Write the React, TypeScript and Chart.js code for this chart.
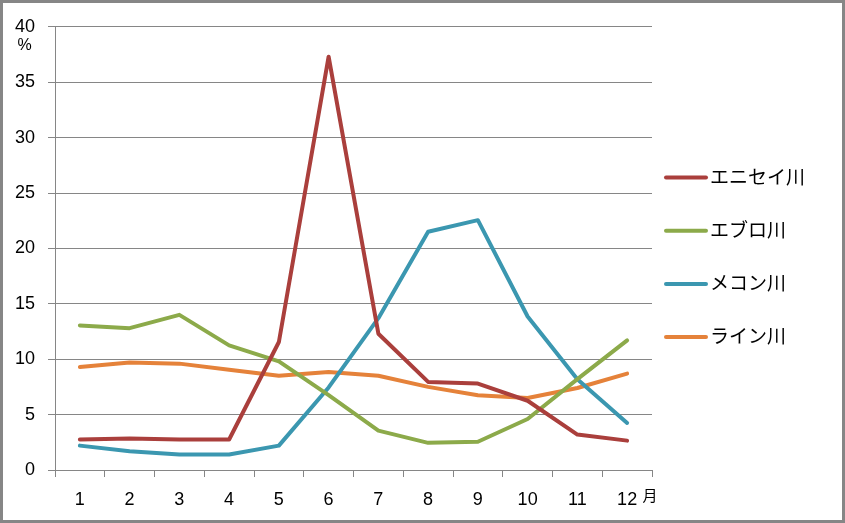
import React, { useEffect, useRef } from "react";
import { Chart, registerables } from "chart.js";

Chart.register(...registerables);

// months on the x axis
const months = ["1", "2", "3", "4", "5", "6", "7", "8", "9", "10", "11", "12"];

// share of yearly flow per month (%)
const yenisei = [2.75, 2.85, 2.75, 2.75, 11.55, 37.3, 12.3, 7.95, 7.8, 6.25, 3.2, 2.65];
const ebro = [13.05, 12.8, 14.0, 11.25, 9.8, 6.75, 3.55, 2.45, 2.55, 4.6, 8.2, 11.7];
const mekong = [2.2, 1.7, 1.4, 1.4, 2.2, 7.45, 13.7, 21.5, 22.55, 13.85, 8.2, 4.25];
const rhine = [9.3, 9.7, 9.6, 9.05, 8.5, 8.85, 8.5, 7.5, 6.75, 6.5, 7.4, 8.7];

const seriesNames = ["エニセイ川", "エブロ川", "メコン川", "ライン川"];
const seriesColors = ["#AA3F3C", "#8CAA4A", "#3B97B0", "#E5823A"];

const GRID = "#868686";

const legendPlugin = {
  id: "sideLegend",
  afterDraw(chart: Chart) {
    const ctx = chart.ctx;
    ctx.save();
    chart.data.datasets.forEach((ds: any, i: number) => {
      const y = 174.5 + i * 53.2;
      ctx.strokeStyle = ds.borderColor;
      ctx.lineWidth = 4;
      ctx.lineCap = "round";
      ctx.beginPath();
      ctx.moveTo(663, y);
      ctx.lineTo(703, y);
      ctx.stroke();
      ctx.fillStyle = "#000";
      ctx.font = '19px "Noto Sans CJK JP"';
      ctx.textAlign = "left";
      ctx.textBaseline = "middle";
      ctx.fillText(ds.label, 707, y - 1);
    });
    // unit labels
    ctx.font = '16px "Liberation Sans"';
    ctx.textAlign = "center";
    ctx.fillText("%", 21.5, 43);
    ctx.font = '15px "Noto Sans CJK JP"';
    ctx.fillText("月", 647, 492.5);
    ctx.restore();
  },
};

export default function App() {
  const canvasRef = useRef<HTMLCanvasElement>(null);

  useEffect(() => {
    if (!canvasRef.current) return;
    const values = [yenisei, ebro, mekong, rhine];
    const chart = new Chart(canvasRef.current, {
      type: "line",
      data: {
        labels: months,
        datasets: values.map((v, i) => ({
          label: seriesNames[i],
          data: v,
          borderColor: seriesColors[i],
          backgroundColor: seriesColors[i],
          borderWidth: 4,
          borderCapStyle: "round" as const,
          borderJoinStyle: "round" as const,
          pointRadius: 0,
          tension: 0,
        })),
      },
      options: {
        animation: false,
        responsive: false,
        devicePixelRatio: 1,
        layout: { padding: { top: 19, right: 190, left: 0, bottom: 0 } },
        plugins: { legend: { display: false }, tooltip: { enabled: false } },
        scales: {
          x: {
            offset: true,
            grid: { offset: true, drawOnChartArea: false, drawTicks: true, tickLength: 7, color: GRID },
            border: { display: true, color: GRID },
            ticks: { color: "#000", padding: 12, font: { family: "Liberation Sans", size: 18 } },
            afterFit(scale: any) {
              scale.height = 50;
            },
          },
          y: {
            min: 0,
            max: 40,
            grid: { color: GRID, drawTicks: true, tickLength: 7 },
            border: { display: true, color: GRID },
            ticks: { stepSize: 5, color: "#000", padding: 13, font: { family: "Liberation Sans", size: 18 } },
            afterFit(scale: any) {
              scale.width = 52;
            },
          },
        },
      },
      plugins: [legendPlugin],
    });
    return () => chart.destroy();
  }, []);

  return (
    <div
      style={{
        position: "fixed",
        left: 0,
        top: 0,
        width: 845,
        height: 523,
        boxSizing: "border-box",
        border: "3px solid #868686",
        background: "#fff",
      }}
    >
      <canvas ref={canvasRef} width={839} height={517} style={{ display: "block" }} />
    </div>
  );
}
